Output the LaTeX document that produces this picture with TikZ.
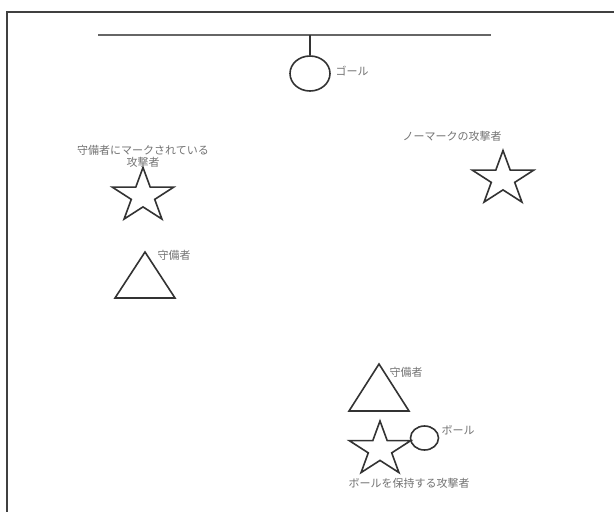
\documentclass[tikz,border=0pt]{standalone}
\usepackage{fontspec}
\newfontfamily\jpfont{Noto Sans CJK JP}
\usepackage{tikz}
\usetikzlibrary{shapes.geometric}

\tikzset{
  lbl/.style={text=black!55, font=\jpfont\fontsize{11}{12}\selectfont, inner sep=0pt, align=center},
  shape line/.style={draw=black!80, line width=1.6pt},
}
% star outline of a player, #1 = centre
\newcommand{\attacker}[1]{%
  \draw[shape line, shift={(#1)}, xscale=1.13] (-90:28.5)
    \foreach \i in {0,...,4} {-- (-90+72*\i:28.5) -- (-54+72*\i:10.9)} -- cycle;}

\begin{document}
\begin{tikzpicture}[x=1pt, y=-1pt, line join=miter]
    \useasboundingbox (0,0) rectangle (614,512);
    \clip (0,0) rectangle (614,512);
    \fill[white] (0,0) rectangle (614,512);
    % field frame
    \draw[black!75, line width=1.4pt] (7,12) rectangle (640,540);
    % goal
    \coordinate (gl) at (98,35);
    \coordinate (gr) at (491,35);
    \draw[black!60, line width=2.2pt] (gl) -- (gr);
    \node[ellipse, shape line, minimum width=40, minimum height=35, inner sep=0pt] (goal) at (310,73.5) {};
    \draw[black!80, line width=1.6pt] (310,35) -- (goal.north);
    \node[lbl] (goaltxt) at (352,71) {ゴール};
    % marked attacker and its defender
    \attacker{143,196}
    \node[lbl] (marked) at (143,156) {守備者にマークされている\\攻撃者};
    \draw[shape line] (145,252) -- (115,298) -- (175,298) -- cycle;
    \node[lbl] (def1) at (174,255) {守備者};
    % free attacker
    \attacker{503,179}
    \node[lbl] (free) at (452,136) {ノーマークの攻撃者};
    % attacker with the ball and defender
    \draw[shape line] (379,364) -- (349,411) -- (409,411) -- cycle;
    \node[lbl] (def2) at (406,372) {守備者};
    \attacker{380,449.5}
    \node[ellipse, shape line, minimum width=28, minimum height=24, inner sep=0pt] (ball) at (424.5,438) {};
    \node[lbl] (balltxt) at (458,430) {ボール};
    \node[lbl] (carrier) at (409,483) {ボールを保持する攻撃者};
  \end{tikzpicture}
\end{document}
